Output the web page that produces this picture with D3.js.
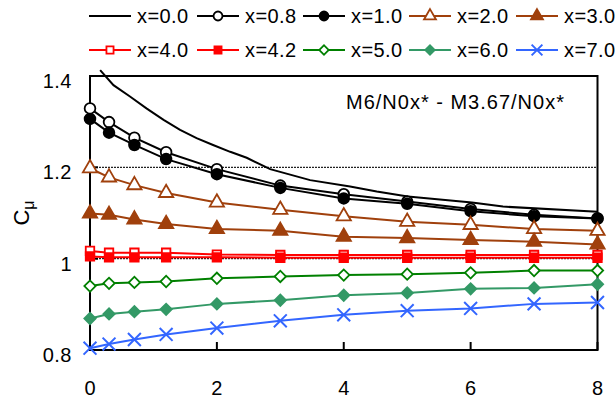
<!DOCTYPE html>
<html>
<head>
<meta charset="utf-8">
<script src="https://cdn.jsdelivr.net/npm/d3@7"></script>
<style>
  body { margin: 0; background: #fff; }
  svg { display: block; font-family: "Liberation Sans", Arial, sans-serif; }
</style>
</head>
<body>
<svg id="chart" width="615" height="401"></svg>
<script>
// Data
const xTicks = [0, 2, 4, 6, 8];
const yTicks = [0.8, 1.0, 1.2, 1.4];
const gridValues = [1.0, 1.2];
const zPos = [0, 0.3, 0.7, 1.2, 2, 3, 4, 5, 6, 7, 8];

// x=0.0 has no markers, a smooth curve
const z00 = [0.16, 0.37, 0.63, 0.89, 1.16, 1.42, 1.68, 1.94, 2.21, 2.47, 2.84, 3.47, 4.1, 4.52, 5.01, 6.02, 6.51, 8.0];
const cx00 = [1.413, 1.380, 1.355, 1.329, 1.304, 1.282, 1.264, 1.249, 1.234, 1.221, 1.196, 1.172, 1.158, 1.147, 1.136, 1.123, 1.114, 1.103];

const cx08 = [1.329, 1.299, 1.265, 1.233, 1.196, 1.160, 1.141, 1.125, 1.109, 1.096, 1.088];
const cx10 = [1.306, 1.276, 1.249, 1.218, 1.185, 1.155, 1.132, 1.120, 1.104, 1.093, 1.088];
const cx20 = [1.198, 1.178, 1.161, 1.144, 1.123, 1.107, 1.093, 1.081, 1.074, 1.065, 1.061];
const cx30 = [1.099, 1.096, 1.086, 1.076, 1.065, 1.061, 1.048, 1.045, 1.041, 1.037, 1.031];
const cx40 = [1.017, 1.013, 1.013, 1.013, 1.009, 1.008, 1.008, 1.008, 1.008, 1.008, 1.008];
const cx42 = [1.005, 1.003, 1.003, 1.003, 1.003, 1.002, 1.002, 1.002, 1.002, 1.002, 1.002];
const cx50 = [0.940, 0.946, 0.948, 0.950, 0.957, 0.961, 0.964, 0.966, 0.969, 0.974, 0.974];
const cx60 = [0.869, 0.879, 0.884, 0.889, 0.901, 0.909, 0.920, 0.925, 0.934, 0.936, 0.944];
const cx70 = [0.804, 0.813, 0.823, 0.834, 0.848, 0.864, 0.877, 0.886, 0.891, 0.901, 0.904];

const series = [
  { name: 'x=0.0', xs: z00, ys: cx00, color: '#000', marker: null },
  { name: 'x=0.8', xs: zPos, ys: cx08, color: '#000', marker: 'circle', open: true },
  { name: 'x=1.0', xs: zPos, ys: cx10, color: '#000', marker: 'circle', open: false },
  { name: 'x=2.0', xs: zPos, ys: cx20, color: '#a0400c', marker: 'triangle', open: true },
  { name: 'x=3.0', xs: zPos, ys: cx30, color: '#a0400c', marker: 'triangle', open: false },
  { name: 'x=4.0', xs: zPos, ys: cx40, color: '#ff0000', marker: 'square', open: true },
  { name: 'x=4.2', xs: zPos, ys: cx42, color: '#ff0000', marker: 'square', open: false },
  { name: 'x=5.0', xs: zPos, ys: cx50, color: '#008000', marker: 'diamond', open: true },
  { name: 'x=6.0', xs: zPos, ys: cx60, color: '#339966', marker: 'diamond', open: false },
  { name: 'x=7.0', xs: zPos, ys: cx70, color: '#3366ff', marker: 'cross', open: false }
];

const svg = d3.select('#chart');
const x = d3.scaleLinear().domain([0, 8]).range([90, 597.5]);
const y = d3.scaleLinear().domain([0.8, 1.4]).range([350, 76]);

// Marker path generator
function markerPath(kind, scale) {
  const s = scale || 1;
  if (kind === 'circle') return d3.symbol(d3.symbolCircle, 90 * s)();
  if (kind === 'triangle') return d3.symbol(d3.symbolTriangle, 88 * s)();
  if (kind === 'square') return d3.symbol(d3.symbolSquare, 72 * s)();
  if (kind === 'diamond') return d3.symbol(d3.symbolSquare, 64 * s)();
  if (kind === 'cross') return d3.symbol(d3.symbolTimes || d3.symbolX, 110 * s)();
  return null;
}

function drawMarker(g, s, px, py, scale) {
  const isCross = s.marker === 'cross';
  g.append('path')
    .attr('d', markerPath(s.marker, scale))
    .attr('transform', `translate(${px},${py})` + (s.marker === 'diamond' ? ' rotate(45)' : ''))
    .attr('fill', isCross ? 'none' : (s.open ? '#fff' : s.color))
    .attr('stroke', s.color)
    .attr('stroke-width', isCross ? 2 : 1.8);
}

// Dotted reference lines
svg.selectAll('line.grid')
  .data(gridValues)
  .enter().append('line')
  .attr('class', 'grid')
  .attr('x1', x(0)).attr('x2', x(8))
  .attr('y1', d => y(d)).attr('y2', d => y(d))
  .attr('stroke', '#222')
  .attr('stroke-width', 1.2)
  .attr('stroke-dasharray', '2,1');

// Frame (axes + top/right border)
const frame = svg.append('g');
frame.append('rect')
  .attr('x', x(0)).attr('y', y(1.4))
  .attr('width', x(8) - x(0)).attr('height', y(0.8) - y(1.4))
  .attr('fill', 'none').attr('stroke', '#000').attr('stroke-width', 2);

// Inside ticks on x axis
frame.selectAll('line.xt')
  .data(xTicks)
  .enter().append('line')
  .attr('x1', d => x(d)).attr('x2', d => x(d))
  .attr('y1', y(0.8)).attr('y2', y(0.8) - 8)
  .attr('stroke', '#000').attr('stroke-width', 2);

// Inside ticks on y axis
frame.selectAll('line.yt')
  .data(yTicks)
  .enter().append('line')
  .attr('x1', x(0)).attr('x2', x(0) + 8)
  .attr('y1', d => y(d)).attr('y2', d => y(d))
  .attr('stroke', '#000').attr('stroke-width', 2);

// Tick labels
svg.selectAll('text.xl')
  .data(xTicks)
  .enter().append('text')
  .attr('x', d => x(d))
  .attr('y', 388)
  .attr('dy', '0.35em')
  .attr('text-anchor', 'middle')
  .attr('font-size', 20)
  .text(d => d);

svg.selectAll('text.yl')
  .data(yTicks)
  .enter().append('text')
  .attr('x', 72)
  .attr('y', d => y(d) + 5)
  .attr('dy', '0.35em')
  .attr('text-anchor', 'end')
  .attr('font-size', 20)
  .attr('letter-spacing', 0.5)
  .text(d => d === 1 ? '1' : d3.format('.1f')(d));

// Y axis title C-mu
const yTitle = svg.append('text')
  .attr('transform', 'translate(29,213) rotate(-90)')
  .attr('text-anchor', 'middle')
  .attr('font-size', 22);
yTitle.append('tspan').text('C');
yTitle.append('tspan').attr('font-size', 16).attr('dy', 5).text('μ');

// Annotation
svg.append('text')
  .attr('x', 346)
  .attr('y', 102)
  .attr('dy', '0.35em')
  .attr('font-size', 20)
  .attr('letter-spacing', 1)
  .text('M6/N0x* - M3.67/N0x*');

// Series lines and markers
const line = d3.line().x(d => x(d[0])).y(d => y(d[1]));
series.forEach(s => {
  const pts = s.xs.map((v, i) => [v, s.ys[i]]);
  const g = svg.append('g');
  g.append('path')
    .attr('d', line(pts))
    .attr('fill', 'none')
    .attr('stroke', s.color)
    .attr('stroke-width', 2);
  if (s.marker) {
    pts.forEach(p => drawMarker(g, s, x(p[0]), y(p[1]), 1));
  }
});

// Legend, two rows of five
const legX = [89, 197, 303, 409, 516];
const legY = [16, 50];
series.forEach((s, i) => {
  const lx = legX[i % 5];
  const ly = legY[Math.floor(i / 5)];
  const g = svg.append('g');
  g.append('line')
    .attr('x1', lx).attr('x2', lx + 42)
    .attr('y1', ly).attr('y2', ly)
    .attr('stroke', s.color).attr('stroke-width', 2);
  if (s.marker) drawMarker(g, s, lx + 21, ly, 0.7);
  g.append('text')
    .attr('x', lx + 48)
    .attr('y', ly)
    .attr('dy', '0.35em')
    .attr('font-size', 20)
    .attr('letter-spacing', 0.4)
    .text(s.name);
});
</script>
</body>
</html>
